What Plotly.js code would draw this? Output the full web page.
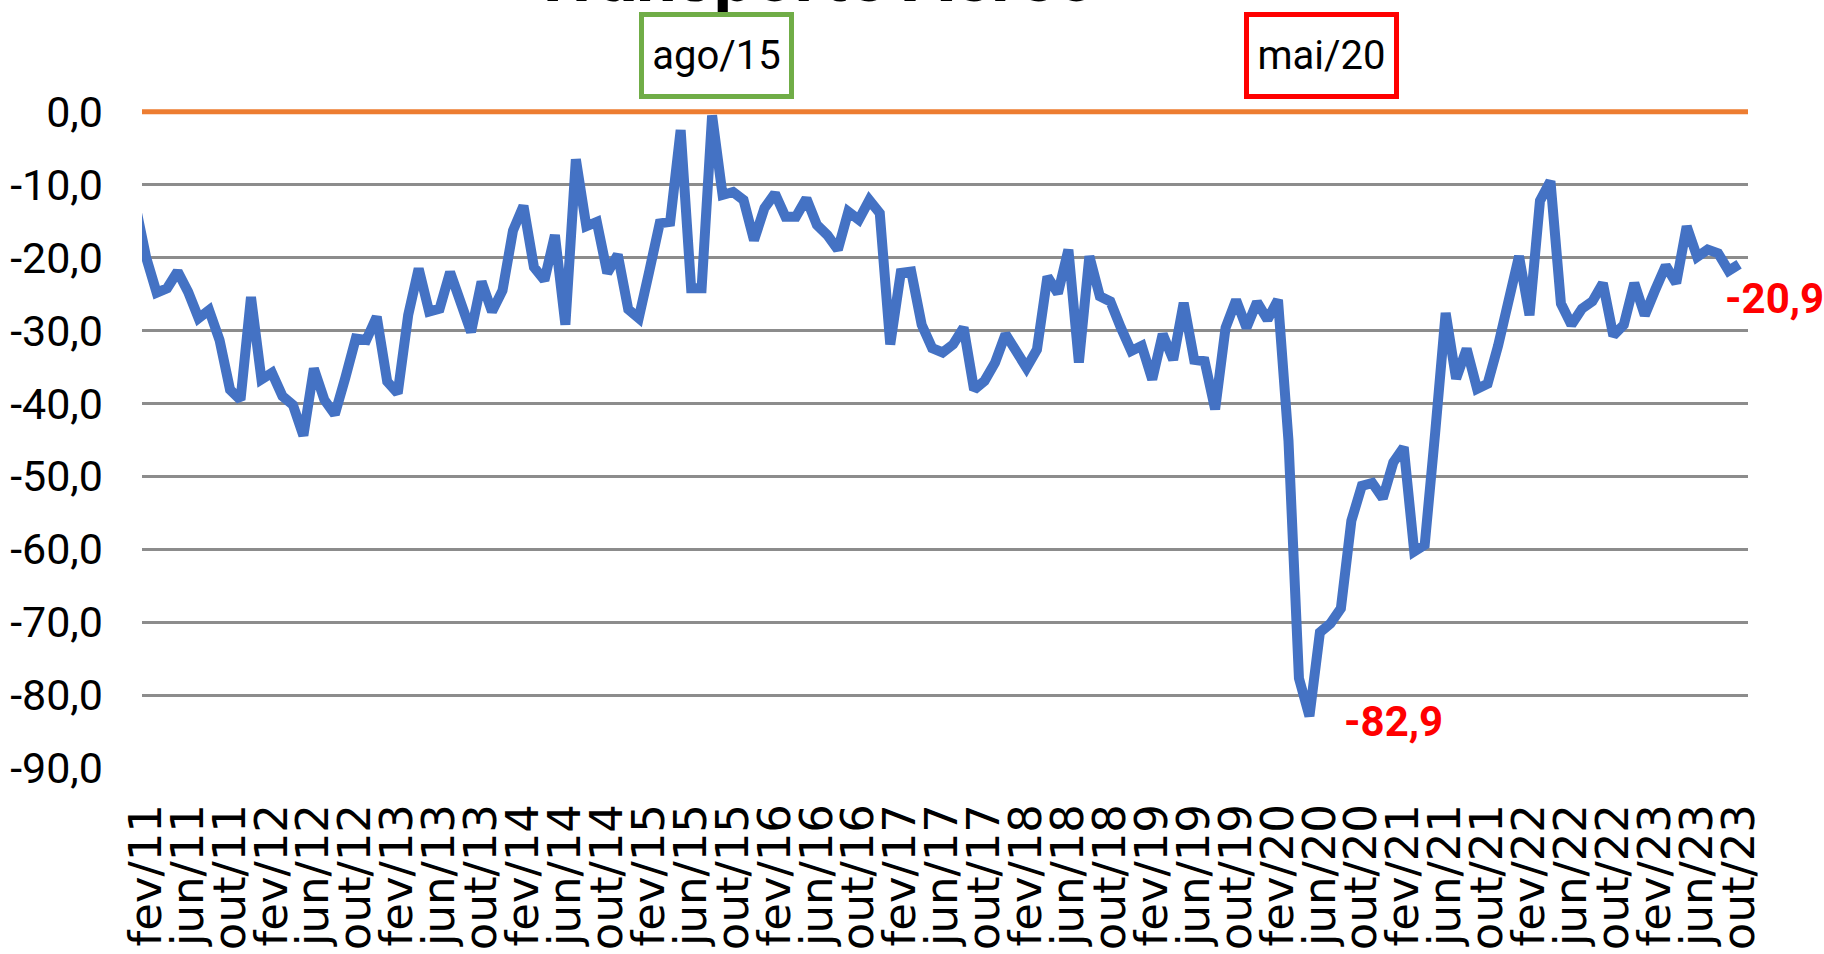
<!DOCTYPE html>
<html>
<head>
<meta charset="utf-8">
<script src="https://cdn.plot.ly/plotly-3.0.1.min.js"></script>
<style>
html,body{margin:0;padding:0;background:#fff;overflow:hidden}
#chart{width:1824px;height:954px}
</style>
</head>
<body>
<div id="chart"></div>
<script>
// ---- data ----
const monthNames = ['jan','fev','mar','abr','mai','jun','jul','ago','set','out','nov','dez'];
const firstYear = 2011;
const values = [
 -13, -20, -24.8, -24.2, -21.9, -24.7, -28.3, -27.2, -31.3, -38.1,
 -39.5, -25.4, -36.7, -35.8, -39.0, -40.2, -44.4, -35.2, -39.5, -41.5,
 -36.5, -31.1, -31.3, -28.1, -37.0, -38.6, -27.9, -21.5, -27.4, -27.0,
 -22.0, -26.1, -30.2, -23.3, -27.4, -24.5, -16.3, -12.9, -21.3, -23.1,
 -16.9, -29.2, -6.5, -15.7, -15.1, -22.1, -19.6, -27.1, -28.3, -21.9,
 -15.3, -15.1, -2.5, -24.2, -24.2, -0.5, -11.4, -11.0, -12.1, -17.6,
 -13.2, -11.2, -14.4, -14.4, -11.9, -15.5, -16.9, -18.9, -13.7, -14.8,
 -12.1, -13.9, -31.9, -22.1, -21.9, -29.2, -32.4, -33.0, -31.9, -29.6,
 -38.1, -36.9, -34.4, -30.5, -33.1, -35.1, -32.6, -22.6, -24.9, -18.9,
 -34.4, -19.8, -25.3, -26.0, -29.6, -32.8, -32.1, -36.7, -30.5, -34.0,
 -26.2, -34.0, -34.2, -40.8, -29.6, -25.8, -29.6, -26.1, -28.5, -25.8,
 -45.1, -77.7, -82.9, -71.4, -70.2, -68.1, -56.1, -51.3, -50.9, -53.0,
 -48.1, -46.0, -60.3, -59.4, -44.0, -27.6, -36.6, -32.5, -38.0, -37.3,
 -32.1, -26.5, -19.8, -27.9, -12.2, -9.5, -26.3, -29.2, -27.0, -26.0,
 -23.5, -30.7, -29.2, -23.5, -27.9, -24.4, -21.1, -23.5, -15.7, -19.9,
 -18.9, -19.4, -21.8, -20.9
];
const tickLabels = [
 'fev/11','jun/11','out/11','fev/12','jun/12','out/12','fev/13','jun/13','out/13',
 'fev/14','jun/14','out/14','fev/15','jun/15','out/15','fev/16','jun/16','out/16',
 'fev/17','jun/17','out/17','fev/18','jun/18','out/18','fev/19','jun/19','out/19',
 'fev/20','jun/20','out/20','fev/21','jun/21','out/21','fev/22','jun/22','out/22',
 'fev/23','jun/23','out/23'
];
const yTicks = [0, -10, -20, -30, -40, -50, -60, -70, -80, -90];
const highlightMonths = ['ago/15', 'mai/20'];
const highlightColors = ['#70AD47', '#FF0000'];
const chartTitle = 'Transporte Aéreo';

// ---- build ----
const categories = values.map((v, i) =>
  monthNames[i % 12] + '/' + String((firstYear + Math.floor(i / 12)) % 100).padStart(2, '0'));

const narrow = 'Roboto, "Liberation Sans", sans-serif';
const fmt = v => v.toFixed(1).replace('.', ',');   // keeps ASCII hyphen as minus sign

const minVal = Math.min(...values);
const minCat = categories[values.indexOf(minVal)];
const lastVal = values[values.length - 1];
const lastCat = categories[categories.length - 1];

const trace = {
  type: 'scatter', mode: 'lines',
  x: categories, y: values,
  line: {color: '#4472C4', width: 10, shape: 'linear'},
  hoverinfo: 'x+y'
};

const annotations = [
  {x: highlightMonths[0], xref: 'x', xshift: 4, y: 1.0761, yref: 'paper', yanchor: 'middle', xanchor: 'center',
   text: highlightMonths[0], showarrow: false, font: {family: narrow, size: 40, color: '#000'},
   bordercolor: highlightColors[0], borderwidth: 5, borderpad: 0, width: 145, height: 77, bgcolor: '#fff'},
  {x: highlightMonths[1], xref: 'x', xshift: 12, y: 1.0761, yref: 'paper', yanchor: 'middle', xanchor: 'center',
   text: highlightMonths[1], showarrow: false, font: {family: narrow, size: 40, color: '#000'},
   bordercolor: highlightColors[1], borderwidth: 5, borderpad: 0, width: 145, height: 77, bgcolor: '#fff'},
  {x: minCat, xref: 'x', y: minVal, yref: 'y', xanchor: 'left', yanchor: 'middle', xshift: 33, yshift: -5,
   text: fmt(minVal), showarrow: false, font: {family: narrow, size: 42, color: '#FF0000', weight: 'bold'}},
  {x: lastCat, xref: 'x', y: lastVal, yref: 'y', xanchor: 'left', yanchor: 'middle', xshift: -16, yshift: -34,
   text: fmt(lastVal), showarrow: false, font: {family: narrow, size: 42, color: '#FF0000', weight: 'bold'}}
];

const layout = {
  width: 1824, height: 954,
  margin: {l: 142, r: 76, t: 105.7, b: 186, pad: 0},
  paper_bgcolor: '#fff', plot_bgcolor: '#fff',
  showlegend: false,
  separators: ',.',
  title: {text: chartTitle, font: {family: narrow, size: 72, color: '#000', weight: 'bold'},
          x: 0.446, xanchor: 'center', xref: 'container', y: 0.999, yanchor: 'bottom', yref: 'container'},
  xaxis: {
    type: 'category', range: [0.6, 153.85],
    tickmode: 'array', tickvals: tickLabels, ticktext: tickLabels,
    tickangle: -90, tickfont: {family: '"DejaVu Sans", Verdana, sans-serif', size: 45, color: '#000'},
    showgrid: false, zeroline: false, showline: false, ticks: '', ticklabelstandoff: 26
  },
  yaxis: {
    range: [-90, 0.8], tickmode: 'array', tickvals: yTicks, ticktext: yTicks.map(fmt),
    showgrid: true, gridcolor: '#8c8c8c', gridwidth: 2.5,
    zeroline: false, showline: false, ticks: '',
    tickfont: {family: narrow, size: 43, color: '#000'}, ticklabelstandoff: 38
  },
  shapes: [{type: 'line', xref: 'paper', x0: 0, x1: 1, yref: 'y', y0: 0, y1: 0,
            line: {color: '#ED7D31', width: 5}, layer: 'above'}],
  annotations: annotations
};

Plotly.newPlot('chart', [trace], layout, {displayModeBar: false, responsive: false});
</script>
</body>
</html>
